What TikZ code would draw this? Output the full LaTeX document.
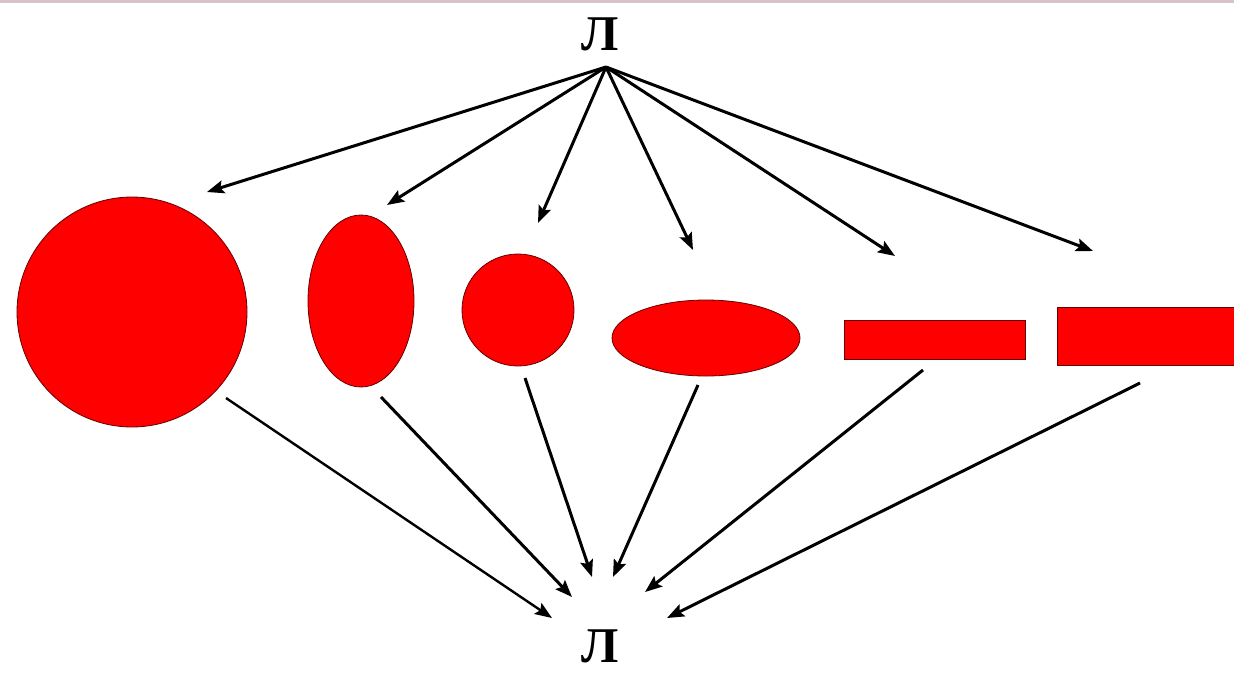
\documentclass[tikz,border=0pt]{standalone}
\usepackage{fontspec}
\setmainfont{Liberation Serif}
\usepackage{tikz}
\usetikzlibrary{arrows.meta,shapes.geometric}
\definecolor{slidebar}{RGB}{216,194,204}

\begin{document}
\begin{tikzpicture}[x=1pt, y=-1pt, >={Stealth[length=17pt, width=13pt, inset=3pt]},
  blob/.style={draw=black!60!red, line width=0.8pt, fill=red, inner sep=0pt},
  arr/.style={->, line width=3pt},
  letter/.style={font=\fontsize{50}{50}\selectfont\bfseries, inner sep=0pt}]
\useasboundingbox (0,0) rectangle (1234,673);
\fill[slidebar] (0,0) rectangle (1234,3);
% labels
\node[letter, anchor=base] (topL) at (600,50) {Л};
\node[letter, anchor=base] (botL) at (600,662) {Л};
% shapes
\node[blob, circle, minimum size=230pt] (bigc) at (132,312) {};
\node[blob, ellipse, minimum width=106pt, minimum height=172pt] (vell) at (361,301) {};
\node[blob, circle, minimum size=112pt] (smc) at (518,310) {};
\node[blob, ellipse, minimum width=188pt, minimum height=76pt] (hell) at (706,338) {};
\node[blob, rectangle, minimum width=181pt, minimum height=39pt] (rect1) at (934.5,339.5) {};
\node[blob, rectangle, minimum width=190pt, minimum height=58pt] (rect2) at (1152,336) {};
% arrows from the top letter
\coordinate (apex) at (606,67);
\coordinate (t1) at (207,192);
\coordinate (t2) at (387,205);
\coordinate (t3) at (538,223);
\coordinate (t4) at (693,250);
\coordinate (t5) at (895,256);
\coordinate (t6) at (1093,251);
\draw[arr] (apex) -- (t1);
\draw[arr] (apex) -- (t2);
\draw[arr] (apex) -- (t3);
\draw[arr] (apex) -- (t4);
\draw[arr] (apex) -- (t5);
\draw[arr] (apex) -- (t6);
% arrows down to the bottom letter
\coordinate (s1) at (226,398);
\coordinate (s2) at (381,397);
\coordinate (s3) at (525,378);
\coordinate (s4) at (698,385);
\coordinate (s5) at (923,370);
\coordinate (s6) at (1140,383);
\coordinate (e1) at (552,618);
\coordinate (e2) at (572,597);
\coordinate (e3) at (592,577);
\coordinate (e4) at (613,577);
\coordinate (e5) at (645,592);
\coordinate (e6) at (667,618);
\draw[arr, line width=2.4pt] (s1) -- (e1);
\draw[arr] (s2) -- (e2);
\draw[arr] (s3) -- (e3);
\draw[arr] (s4) -- (e4);
\draw[arr] (s5) -- (e5);
\draw[arr] (s6) -- (e6);
\end{tikzpicture}
\end{document}
